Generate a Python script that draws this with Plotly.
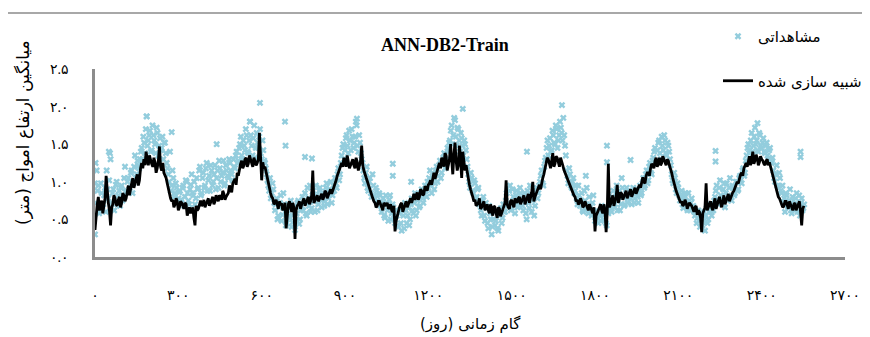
import plotly.graph_objects as go

# ---------------- data ----------------
# simulated series: values every 8 days from day 0, plus in-between values (day 4, 12, ...)
sim_step = 8
sim_values = [
    0.36, 0.70, 0.62, 0.75, 0.66, 1.08, 0.72, 0.42, 0.70, 0.78, 0.68, 0.80, 0.72, 0.82,
    0.78, 0.95, 0.88, 1.05, 0.98, 1.10, 1.02,
    1.25, 1.30, 1.40, 1.22, 1.28, 1.20, 1.26, 1.18, 1.47, 1.15, 1.12, 1.05,
    0.90, 0.78,
    0.76, 0.70, 0.74, 0.66, 0.72, 0.64, 0.70, 0.60, 0.58, 0.66, 0.42, 0.62, 0.72, 0.68,
    0.76, 0.70, 0.78, 0.72, 0.80, 0.74, 0.78, 0.82, 0.76, 0.84, 0.80, 0.85, 0.90, 0.98,
    1.04, 1.12, 1.18,
    1.28, 1.22, 1.32, 1.24, 1.30, 1.20, 1.28, 1.25, 1.65, 1.02, 1.18, 1.12,
    0.98, 0.85, 0.78,
    0.72, 0.68, 0.74, 0.70, 0.66, 0.38, 0.70, 0.66, 0.72, 0.24, 0.68, 0.74, 0.70, 0.78,
    0.72, 0.80, 0.74, 1.15, 0.76, 0.82, 0.78, 0.84, 0.80, 0.86, 0.82, 0.90, 0.88,
    0.98, 1.08, 1.18,
    1.25, 1.32, 1.20, 1.28, 1.22, 1.30, 1.18, 1.26, 1.20, 1.48, 1.15,
    1.05, 0.95, 0.85, 0.78,
    0.72, 0.68, 0.74, 0.66, 0.72, 0.68, 0.64, 0.70, 0.60, 0.34, 0.55, 0.66, 0.72, 0.64,
    0.74, 0.70, 0.78,
    0.80, 0.76, 0.86, 0.80, 0.88, 0.84, 0.92, 0.96, 1.02, 1.08, 1.04, 1.15,
    1.25, 1.32, 1.20, 1.35, 1.22, 1.50, 1.10, 1.52, 1.15, 1.48, 1.05, 1.30, 1.22,
    1.05, 0.90, 0.80,
    0.76, 0.70, 0.78, 0.66, 0.74, 0.68, 0.62, 0.70, 0.55, 0.66, 0.52, 0.64, 0.58, 0.68,
    1.02, 0.66, 0.74, 0.70, 0.78, 0.72, 0.80,
    0.74, 0.82, 0.76, 0.84, 0.78, 1.00, 0.80, 0.90,
    0.96, 1.00, 1.10,
    1.22, 1.30, 1.18, 1.38, 1.24, 1.32, 1.20, 1.28, 1.16,
    1.08, 1.00, 0.92, 0.86, 0.80,
    0.76, 0.72, 0.74, 0.68, 0.70, 0.62, 0.66, 0.58, 0.34, 0.60, 0.66, 0.62, 0.70, 0.33,
    1.24, 0.70, 0.82, 0.74, 0.96, 0.78, 0.84,
    0.80, 0.88, 0.82, 0.90, 0.84, 0.92, 0.88,
    0.96, 1.02, 1.00, 1.08, 1.12, 1.18,
    1.22, 1.28, 1.20, 1.32, 1.25, 1.30, 1.22, 1.28, 1.18,
    1.05, 0.92, 0.84, 0.78,
    0.74, 0.70, 0.72, 0.68, 0.70, 0.64, 0.66, 0.56, 0.60, 0.33, 0.62, 0.98, 0.66, 0.74,
    0.62, 0.78, 0.70, 0.80, 0.66, 0.82, 0.74, 0.84, 0.80, 0.86, 0.92,
    1.00, 1.06, 1.12, 1.18,
    1.25, 1.30, 1.22, 1.40, 1.28, 1.32, 1.26, 1.30, 1.24, 1.28, 1.22, 1.20,
    1.08, 0.95, 0.85, 0.78,
    0.72, 0.68, 0.74, 0.64, 0.70, 0.62, 0.72, 0.66, 0.74, 0.42, 0.68,
]
sim_mid_values = [
    0.55, 0.80, 0.68, 0.58, 0.78, 0.85, 0.62, 0.66, 0.82, 0.70, 0.76, 0.66, 0.85, 0.74,
    0.86, 0.82, 0.98, 0.92, 1.04, 0.95, 1.18,
    1.18, 1.22, 1.30, 1.35, 1.24, 1.32, 1.12, 1.28, 1.20, 1.25, 1.08, 0.98,
    0.84, 0.74,
    0.66, 0.78, 0.62, 0.74, 0.68, 0.72, 0.55, 0.66, 0.62, 0.52, 0.68, 0.64, 0.75, 0.70,
    0.66, 0.74, 0.68, 0.76, 0.70, 0.82, 0.74, 0.80, 0.88, 0.76, 0.82, 0.95, 0.86, 1.02,
    0.96, 1.08, 1.24,
    1.18, 1.30, 1.20, 1.35, 1.26, 1.32, 1.22, 1.30, 1.22, 1.26, 1.20, 1.05,
    0.92, 0.80, 0.70,
    0.76, 0.64, 0.70, 0.62, 0.72, 0.62, 0.74, 0.60, 0.66, 0.62, 0.70, 0.64, 0.74, 0.68,
    0.76, 0.70, 0.82, 0.72, 0.78, 0.74, 0.82, 0.76, 0.88, 0.78, 0.86, 0.84, 0.92,
    1.02, 1.12, 1.22,
    1.20, 1.26, 1.35, 1.18, 1.28, 1.22, 1.32, 1.15, 1.28, 1.22, 1.10,
    1.00, 0.90, 0.82, 0.74,
    0.66, 0.74, 0.70, 0.62, 0.70, 0.72, 0.66, 0.62, 0.68, 0.48, 0.62, 0.70, 0.60, 0.70,
    0.66, 0.74, 0.72,
    0.84, 0.80, 0.76, 0.90, 0.82, 0.94, 0.88, 0.98, 0.96, 1.12, 1.10, 1.22,
    1.18, 1.28, 1.38, 1.15, 1.30, 1.25, 1.35, 1.28, 1.22, 1.30, 1.40, 1.15, 1.12,
    0.96, 0.86, 0.74,
    0.68, 0.72, 0.64, 0.72, 0.62, 0.70, 0.58, 0.64, 0.68, 0.58, 0.66, 0.54, 0.62, 0.72,
    0.70, 0.64, 0.76, 0.66, 0.74, 0.78, 0.70,
    0.80, 0.70, 0.82, 0.72, 0.86, 0.74, 0.84, 0.92,
    0.90, 1.05, 1.18,
    1.32, 1.24, 1.28, 1.20, 1.34, 1.26, 1.32, 1.22, 1.12,
    1.04, 0.96, 0.88, 0.82, 0.74,
    0.70, 0.78, 0.66, 0.74, 0.64, 0.70, 0.60, 0.66, 0.55, 0.62, 0.70, 0.58, 0.62, 0.60,
    0.66, 0.76, 0.68, 0.80, 0.72, 0.86, 0.76,
    0.86, 0.78, 0.86, 0.80, 0.88, 0.84, 0.92,
    0.92, 1.06, 0.98, 1.12, 1.08, 1.24,
    1.18, 1.32, 1.24, 1.22, 1.34, 1.24, 1.30, 1.22, 1.12,
    0.98, 0.88, 0.80, 0.72,
    0.68, 0.76, 0.64, 0.72, 0.68, 0.60, 0.68, 0.62, 0.52, 0.58, 0.66, 0.62, 0.70, 0.66,
    0.72, 0.64, 0.76, 0.72, 0.74, 0.70, 0.80, 0.74, 0.82, 0.88, 0.96,
    0.98, 1.10, 1.08, 1.22,
    1.20, 1.34, 1.28, 1.24, 1.36, 1.22, 1.34, 1.28, 1.22, 1.30, 1.26, 1.14,
    1.00, 0.90, 0.80, 0.74,
    0.66, 0.74, 0.68, 0.74, 0.66, 0.70, 0.62, 0.70, 0.60, 0.64,
]

# observed series: values every 6 days from day 0, plus a second set from day 3
obs_step = 6
obs_values = [
    0.30, 1.15, 0.95, 0.62, 0.85, 0.70, 0.92, 1.15, 0.78, 1.38, 0.66, 0.90, 0.74, 1.00,
    0.82, 0.68, 0.95, 0.80, 1.20,
    0.88, 1.05, 0.92, 1.15, 0.98, 1.35, 1.10, 1.22, 1.30,
    1.45, 1.60, 1.38, 1.87, 1.55, 1.68, 1.42, 1.62, 1.50, 1.72, 1.35, 1.58, 1.45, 1.30,
    1.52, 1.25,
    1.10, 1.40, 0.95, 1.05, 0.85, 0.92, 0.78,
    0.88, 0.72, 0.95, 0.80, 1.00, 0.75, 0.90,
    1.10, 0.82, 0.70, 1.05, 0.92, 1.20, 0.85, 1.12, 0.95, 1.25, 1.02, 0.88, 1.15, 1.00,
    1.22, 1.05, 0.92, 1.18, 1.08, 1.28, 0.98, 1.15, 1.05, 1.25, 1.10, 1.30, 1.18,
    1.40, 1.28, 1.50, 1.35, 1.55, 1.42, 1.62, 1.38, 1.80, 1.48, 1.58, 1.32, 1.65, 1.45,
    1.70, 1.30, 1.42, 1.25,
    1.10, 0.95, 1.05, 0.85, 0.90,
    0.62, 0.78, 0.55, 0.72, 0.48, 0.85, 0.60, 0.45, 0.70, 0.52, 0.40, 0.65, 0.36, 0.58,
    0.75, 0.50, 0.68,
    0.62, 0.85, 0.55, 0.78, 0.95, 0.65, 0.88, 0.60, 0.82, 0.70, 0.92, 0.66, 0.85, 0.74,
    0.98, 0.78, 0.90, 0.72, 0.95,
    1.05, 0.92, 1.18, 1.10,
    1.35, 1.50, 1.42, 1.62, 1.38, 1.55, 1.70, 1.45, 1.60, 1.75, 1.40, 1.52, 1.30,
    1.15, 0.98, 1.20, 0.88, 1.05, 0.80, 0.95, 0.78, 0.88, 0.72, 0.82,
    0.60, 0.78, 0.52, 0.70, 0.48, 0.82, 0.58, 0.66, 0.45, 0.55,
    0.40, 0.62, 0.35, 0.55, 0.72, 0.45, 0.65, 0.50, 0.78, 0.58, 0.85, 0.62, 0.80, 0.68,
    0.90, 0.72, 0.95, 0.80,
    0.92, 1.15, 0.85, 1.05, 0.98, 1.20, 1.08, 1.28, 1.12, 1.32, 1.18, 1.25, 1.40,
    1.55, 1.75, 1.62, 1.82, 1.48, 1.70, 1.40, 1.58, 1.35, 1.50, 1.30,
    1.10, 0.92, 1.05, 0.85, 0.98, 0.80, 0.92,
    0.72, 0.55, 0.80, 0.48, 0.65, 0.38, 0.58, 0.30, 0.50, 0.42, 0.62, 0.35, 0.55, 0.45,
    0.70,
    0.60, 0.85, 0.72, 0.95, 0.65, 0.80, 0.58, 0.88, 0.70, 0.92, 0.75,
    0.62, 0.85, 0.50, 0.72, 0.95, 0.60, 0.80, 0.68, 0.92, 0.85,
    1.00, 1.15, 0.95, 1.28,
    1.45, 1.35, 1.58, 1.42, 1.62, 1.50, 1.70, 1.55, 1.80, 1.65, 1.85, 1.48,
    1.15, 0.98, 1.10, 0.92, 1.05, 0.88,
    0.78, 0.95, 0.68, 0.85, 0.60, 0.75, 0.92, 0.58, 0.70, 0.55, 0.82, 0.48,
    0.62, 0.45, 0.55, 0.68, 0.50, 0.60, 0.42, 0.58,
    0.72, 0.60, 0.88, 0.66, 0.95, 0.75, 0.62, 1.05, 0.80, 0.70, 0.92, 0.78,
    0.85, 0.70, 0.92, 0.78, 0.88, 0.72, 0.95, 0.85,
    1.05, 0.95, 1.15, 1.02, 1.25, 1.10,
    1.32, 1.45, 1.28, 1.52, 1.38, 1.60, 1.42, 1.55, 1.35, 1.48, 1.30,
    1.10, 0.98, 1.05, 0.85, 0.92,
    0.75, 0.88, 0.65, 0.80, 0.70, 0.85, 0.62, 0.78, 0.68,
    0.55, 0.45, 0.62, 0.40, 0.58, 0.48, 0.35, 0.65, 0.50, 0.70, 0.55, 0.62,
    0.80, 0.95, 0.70, 1.02, 0.78, 0.90, 0.66, 0.98, 0.82, 1.05, 0.75, 0.92, 0.85, 1.00,
    0.90,
    1.08, 0.98, 1.18, 1.12,
    1.35, 1.50, 1.42, 1.65, 1.48, 1.72, 1.55, 1.40, 1.62, 1.45, 1.58, 1.38, 1.52, 1.30,
    1.45, 1.25,
    1.15, 1.00, 1.22, 0.92, 1.05, 0.85,
    0.72, 0.60, 0.82, 0.66, 0.90, 0.58, 0.75, 0.62, 0.85, 0.70, 0.55, 0.78, 0.65,
]
obs_mid_values = [
    0.72, 0.88, 0.58, 0.98, 0.66, 0.82, 0.60, 0.90, 1.02, 0.72, 0.85, 0.62, 0.96, 0.70,
    0.88, 0.92, 0.75, 1.05, 0.86,
    1.00, 0.90, 1.12, 0.85, 1.20, 1.05, 1.28, 1.18, 1.40,
    1.30, 1.52, 1.70, 1.48, 1.62, 1.40, 1.75, 1.55, 1.38, 1.65, 1.48, 1.42, 1.60, 1.52,
    1.38, 1.18,
    1.00, 0.88, 1.15, 0.80, 0.98, 0.72, 0.86,
    0.76, 0.92, 0.68, 1.02, 0.85, 0.70, 0.96,
    0.85, 1.00, 0.78, 0.90, 1.15, 0.82, 1.05, 0.92, 1.18, 0.88, 1.08, 1.22, 0.95, 1.10,
    0.90, 1.15, 1.28, 1.00, 1.12, 0.95, 1.22, 1.08, 1.30, 1.15, 1.02, 1.20, 1.35,
    1.25, 1.45, 1.60, 1.30, 1.48, 1.70, 1.40, 1.55, 1.62, 1.35, 1.75, 1.45, 1.52, 1.60,
    1.38, 1.55, 1.28, 1.18,
    1.02, 0.88, 0.78, 0.98, 0.72,
    0.70, 0.50, 0.66, 0.82, 0.56, 0.70, 0.42, 0.62, 0.55, 0.75, 0.46, 0.58, 0.48, 0.72,
    0.44, 0.62, 0.80,
    0.72, 0.58, 0.92, 0.68, 0.60, 0.82, 0.74, 0.95, 0.62, 0.88, 0.76, 0.80, 0.68, 0.92,
    0.70, 0.85, 1.00, 0.82, 0.88,
    0.98, 1.10, 1.02, 1.25,
    1.45, 1.30, 1.58, 1.48, 1.68, 1.42, 1.60, 1.52, 1.80, 1.48, 1.62, 1.38, 1.25,
    1.05, 1.12, 0.92, 1.00, 0.85, 1.10, 0.82, 0.92, 0.75, 0.85, 0.68,
    0.72, 0.55, 0.82, 0.62, 0.76, 0.50, 0.70, 0.52, 0.62, 0.42,
    0.58, 0.45, 0.68, 0.38, 0.62, 0.55, 0.42, 0.70, 0.62, 0.72, 0.55, 0.75, 0.66, 0.85,
    0.78, 0.82, 0.88, 1.00,
    1.05, 0.95, 1.12, 0.90, 1.15, 1.00, 1.22, 1.05, 1.25, 1.38, 1.30, 1.45, 1.52,
    1.68, 1.50, 1.85, 1.60, 1.72, 1.55, 1.65, 1.48, 1.55, 1.42, 1.20,
    1.00, 1.12, 0.88, 1.02, 0.78, 0.90, 0.70,
    0.62, 0.75, 0.55, 0.72, 0.45, 0.68, 0.50, 0.40, 0.60, 0.48, 0.38, 0.58, 0.65, 0.52,
    0.60,
    0.75, 0.68, 0.88, 0.62, 0.90, 0.72, 0.82, 0.66, 0.78, 0.85, 0.68,
    0.78, 0.58, 0.88, 0.65, 0.82, 0.75, 0.55, 0.88, 0.78, 0.95,
    1.08, 0.98, 1.20, 1.32,
    1.55, 1.48, 1.40, 1.68, 1.52, 1.75, 1.45, 1.62, 1.72, 1.55, 1.62, 1.35,
    1.08, 1.18, 0.95, 1.00, 0.85, 0.95,
    0.70, 0.82, 0.75, 0.62, 0.88, 0.68, 0.65, 0.80, 0.62, 0.72, 0.60, 0.52,
    0.52, 0.58, 0.48, 0.62, 0.56, 0.45, 0.65, 0.62,
    0.65, 0.80, 0.70, 0.85, 0.62, 0.88, 0.70, 0.92, 0.68, 0.85, 0.72, 0.88,
    0.78, 0.88, 0.72, 0.85, 0.80, 0.90, 0.82, 0.98,
    0.92, 1.10, 0.98, 1.20, 1.12, 1.28,
    1.40, 1.25, 1.42, 1.55, 1.30, 1.48, 1.62, 1.38, 1.52, 1.40, 1.22,
    1.02, 1.12, 0.90, 0.98, 0.82,
    0.82, 0.70, 0.78, 0.85, 0.62, 0.75, 0.72, 0.66, 0.60,
    0.62, 0.52, 0.48, 0.58, 0.42, 0.60, 0.55, 0.45, 0.60, 0.62, 0.68, 0.75,
    0.88, 0.75, 0.92, 0.82, 0.70, 0.98, 0.85, 0.75, 0.92, 0.80, 0.95, 0.82, 1.00, 0.88,
    1.05,
    1.02, 1.15, 1.08, 1.28,
    1.45, 1.38, 1.55, 1.40, 1.60, 1.50, 1.42, 1.65, 1.48, 1.52, 1.40, 1.48, 1.35, 1.42,
    1.28, 1.32,
    1.05, 1.10, 0.95, 1.12, 0.88, 0.95,
    0.78, 0.85, 0.68, 0.75, 0.62, 0.80, 0.68, 0.78, 0.60, 0.82, 0.72, 0.62, 0.70,
]

# isolated observed points (day, value)
outlier_days = [0, 2, 50, 56, 186, 276, 438, 558, 594, 684, 686, 756, 781, 943, 1072,
                1072, 1138, 1324, 1555, 1681, 1767, 1843, 1843, 1928, 2234, 2234, 2385,
                2540, 2540]
outlier_values = [0.98, 1.25, 1.40, 1.30, 1.87, 1.66, 1.50, 1.80, 2.05, 1.80, 1.48, 1.33,
                  1.31, 1.84, 1.24, 1.08, 1.00, 1.97, 1.40, 2.02, 1.08, 1.48, 1.26, 1.29,
                  1.41, 1.27, 1.78, 1.40, 1.33]

x_tickvals = [0, 300, 600, 900, 1200, 1500, 1800, 2100, 2400, 2700]
x_ticktext = ["۰", "۳۰۰", "۶۰۰", "۹۰۰", "۱۲۰۰", "۱۵۰۰", "۱۸۰۰", "۲۱۰۰", "۲۴۰۰", "۲۷۰۰"]
y_tickvals = [0, 0.5, 1.0, 1.5, 2.0, 2.5]
y_ticktext = ["۰.۰", "۰.۵", "۱.۰", "۱.۵", "۲.۰", "۲.۵"]

title_text = "ANN-DB2-Train"
obs_name = "مشاهداتی"
sim_name = "شبیه سازی شده"
x_title = "گام زمانی (روز)"
y_title = "میانگین ارتفاع امواج (متر)"

# ---------------- assemble ----------------
sim_pts = [(i * sim_step, v) for i, v in enumerate(sim_values)]
sim_pts += [(i * sim_step + sim_step // 2, v) for i, v in enumerate(sim_mid_values)]
sim_pts.sort()
sim_days = [p[0] for p in sim_pts]
sim_all = [p[1] for p in sim_pts]

obs_days = ([i * obs_step for i in range(len(obs_values))]
            + [i * obs_step + obs_step // 2 for i in range(len(obs_mid_values))]
            + outlier_days)
obs_all = obs_values + obs_mid_values + outlier_values

# page layout (the page body adds an 8px offset)
OFF = 8
W, H = 870, 337
PL, PR, PT, PB = 95, 845, 69, 257          # plot area in window pixels
L, T = PL - OFF, PT - OFF
R, B = W - (PR - OFF), H - (PB - OFF)
pw, ph = PR - PL, PB - PT


def px(x):
    return (x - PL) / pw


def py(y):
    return (PB - y) / ph


fa = "Liberation Serif, DejaVu Sans, serif"
fp = "DejaVu Sans, Noto Sans, sans-serif"
axis_col = "#8C8C8C"

fig = go.Figure()
fig.add_trace(go.Scatter(
    x=obs_days, y=obs_all, mode="markers", name=obs_name,
    marker=dict(symbol="x", size=6, color="#93CDDD", line=dict(width=0)),
    legendgroup="a",
))
fig.add_trace(go.Scatter(
    x=sim_days, y=sim_all, mode="lines", name=sim_name,
    line=dict(color="black", width=2.8),
    legendgroup="b",
))

fig.update_layout(
    width=W, height=H,
    margin=dict(l=L, r=R, t=T, b=B, pad=0, autoexpand=False),
    paper_bgcolor="white", plot_bgcolor="white",
    showlegend=True,
    legend=dict(
        x=px(718), y=py(20), xanchor="left", yanchor="top",
        font=dict(family=fp, size=15, color="black"),
        bgcolor="rgba(0,0,0,0)", traceorder="grouped", tracegroupgap=22,
    ),
    xaxis=dict(
        range=[0, 2700], tickvals=x_tickvals, ticktext=x_ticktext,
        showgrid=False, zeroline=False, showline=True, linecolor=axis_col, linewidth=2.5,
        ticks="", ticklabelstandoff=23,
        tickfont=dict(family=fa, size=14, color="black"),
    ),
    yaxis=dict(
        range=[0, 2.5], tickvals=y_tickvals, ticktext=y_ticktext,
        showgrid=False, zeroline=False, showline=True, linecolor=axis_col, linewidth=2.5,
        ticks="", ticklabelstandoff=21,
        tickfont=dict(family=fa, size=14, color="black"),
    ),
    annotations=[
        dict(text="<b>" + title_text + "</b>", x=px(445), y=py(45), xref="paper", yref="paper",
             xanchor="center", yanchor="middle",
             showarrow=False, font=dict(family=fa, size=18, color="black")),
        dict(text=x_title, x=px(470), y=py(324), xref="paper", yref="paper",
             xanchor="center", yanchor="middle",
             showarrow=False, font=dict(family=fp, size=15, color="black")),
        dict(text=y_title, x=px(23), y=py(133), xref="paper", yref="paper",
             xanchor="center", yanchor="middle",
             textangle=-90, showarrow=False, font=dict(family=fp, size=17, color="black")),
    ],
    shapes=[
        dict(type="rect", xref="paper", yref="paper", x0=px(7), x1=px(900), y0=py(380), y1=py(13),
             line=dict(color=axis_col, width=1.5), fillcolor="rgba(0,0,0,0)", layer="below"),
    ],
)

fig.write_html("out.html")
